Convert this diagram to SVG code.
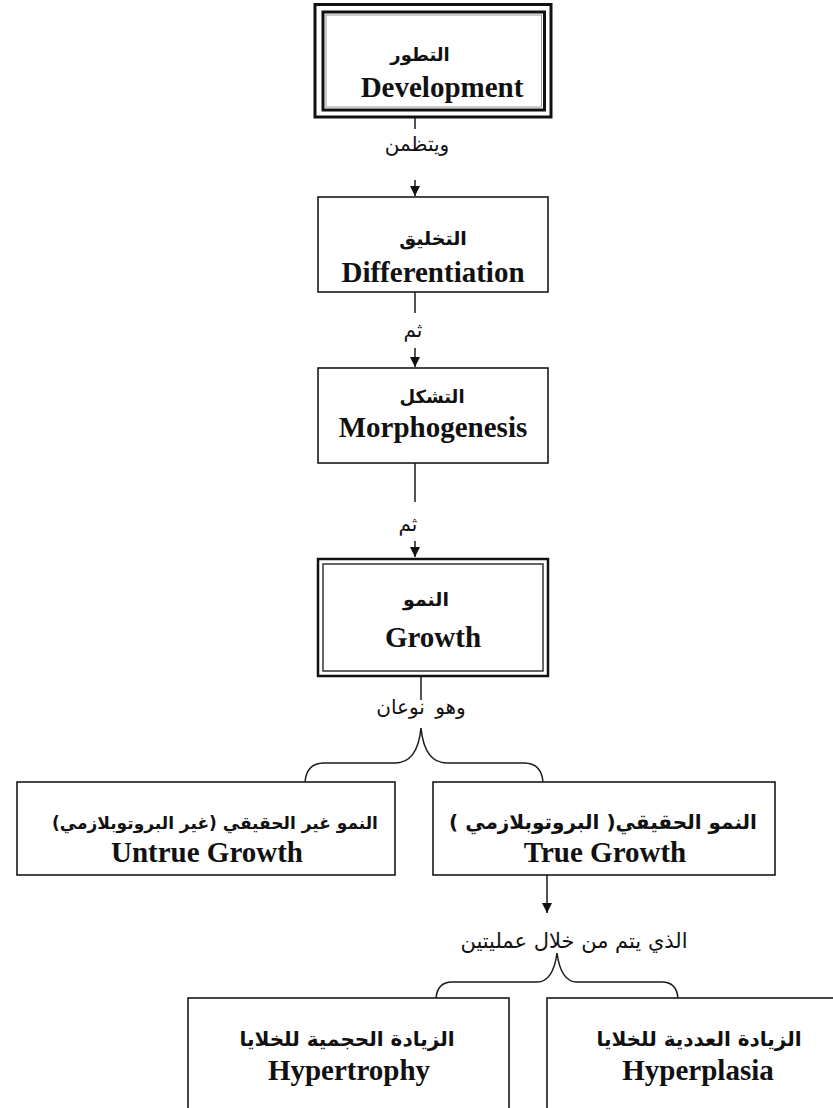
<svg xmlns="http://www.w3.org/2000/svg" width="833" height="1108" viewBox="0 0 833 1108">
<style>
.box{fill:#fff;stroke:#1a1a1a;stroke-width:1.6}
.en{font-family:"Liberation Serif","Times New Roman",serif;font-weight:bold;font-size:29px;fill:#111;text-anchor:middle}
.ar{font-family:"DejaVu Sans",sans-serif;font-weight:bold;font-size:19px;fill:#111;text-anchor:middle}
.lbl{font-family:"DejaVu Sans",sans-serif;font-size:20px;fill:#111;text-anchor:middle}
.ln{stroke:#1a1a1a;stroke-width:1.5;fill:none}
</style>
<defs>
<marker id="ah" viewBox="0 0 10 10" refX="10" refY="5" markerWidth="10" markerHeight="10" markerUnits="userSpaceOnUse" orient="auto">
<path d="M0,0 L10,5 L0,10 z" fill="#111"/>
</marker>
</defs>
<rect width="833" height="1108" fill="#fff"/>

<g id="connectors">
<line class="ln" x1="415" y1="118" x2="415" y2="129"/>
<line class="ln" x1="415" y1="180" x2="415" y2="196" marker-end="url(#ah)"/>
<line class="ln" x1="415" y1="292" x2="415" y2="313"/>
<line class="ln" x1="415" y1="348" x2="415" y2="367" marker-end="url(#ah)"/>
<line class="ln" x1="415" y1="463" x2="415" y2="502"/>
<line class="ln" x1="415" y1="541" x2="415" y2="557" marker-end="url(#ah)"/>
<line class="ln" x1="421" y1="677" x2="421" y2="700"/>
<path class="ln" d="M305,782 C306,770 312,763 324,763 L395,763 C412,763 419,748 421,728 C423,748 430,763 447,763 L524,763 C536,763 542,770 543,782"/>
<line class="ln" x1="547" y1="875" x2="547" y2="913" marker-end="url(#ah)"/>
<path class="ln" d="M436,998 C437,988 442,982 452,982 L537,982 C550,982 555,968 557,953 C559,968 564,982 577,982 L662,982 C672,982 677,988 678,998"/>
</g>

<g id="lbl1"><text class="lbl" x="417" y="151">ويتظمن</text></g>
<g id="lbl2"><text class="lbl" x="413" y="337">ثم</text></g>
<g id="lbl3"><text class="lbl" x="408" y="531">ثم</text></g>
<g id="lbl4"><text class="lbl" x="421" y="714" word-spacing="4">وهو نوعان</text></g>
<g id="lbl5"><text class="lbl" x="574" y="948" style="font-size:21px">الذي يتم من خلال عمليتين</text></g>

<g id="development">
<rect x="315" y="4.5" width="236" height="112.5" fill="#fff" stroke="#111" stroke-width="3"/>
<rect x="323" y="12" width="221.5" height="98" fill="none" stroke="#111" stroke-width="3"/>
<rect x="326" y="15" width="215.5" height="92" fill="none" stroke="#999" stroke-width="1"/>
<text class="ar" x="420" y="61" style="font-size:18px">التطور</text>
<text class="en" x="442" y="97">Development</text>
</g>

<g id="differentiation">
<rect class="box" x="318" y="197" width="230" height="95"/>
<text class="ar" x="433" y="245">التخليق</text>
<text class="en" x="433" y="282">Differentiation</text>
</g>

<g id="morphogenesis">
<rect class="box" x="318" y="368" width="230" height="95"/>
<text class="ar" x="432" y="403" style="font-size:18px">التشكل</text>
<text class="en" x="433" y="437">Morphogenesis</text>
</g>

<g id="growth">
<rect x="318" y="559" width="230" height="117" fill="#fff" stroke="#111" stroke-width="2.5"/>
<rect x="323" y="564" width="220" height="107" fill="none" stroke="#333" stroke-width="1.5"/>
<text class="ar" x="426" y="606">النمو</text>
<text class="en" x="433" y="647">Growth</text>
</g>

<g id="untrue">
<rect class="box" x="17" y="782" width="378" height="93"/>
<text class="ar" x="215" y="829" direction="rtl" style="font-size:17px">النمو غير الحقيقي (غير البروتوبلازمي)</text>
<text class="en" x="207" y="862">Untrue Growth</text>
</g>

<g id="true">
<rect class="box" x="433" y="782" width="342" height="93"/>
<text class="ar" x="603" y="829" direction="rtl" style="font-size:20px">النمو الحقيقي( البروتوبلازمي )</text>
<text class="en" x="605" y="862">True Growth</text>
</g>

<g id="hypertrophy">
<rect class="box" x="188" y="998" width="321" height="130"/>
<text class="ar" x="347" y="1046" style="font-size:20px">الزيادة الحجمية للخلايا</text>
<text class="en" x="349" y="1080">Hypertrophy</text>
</g>

<g id="hyperplasia">
<rect class="box" x="547" y="998" width="321" height="130"/>
<text class="ar" x="699" y="1046" style="font-size:20px">الزيادة العددية للخلايا</text>
<text class="en" x="698" y="1080">Hyperplasia</text>
</g>
</svg>
